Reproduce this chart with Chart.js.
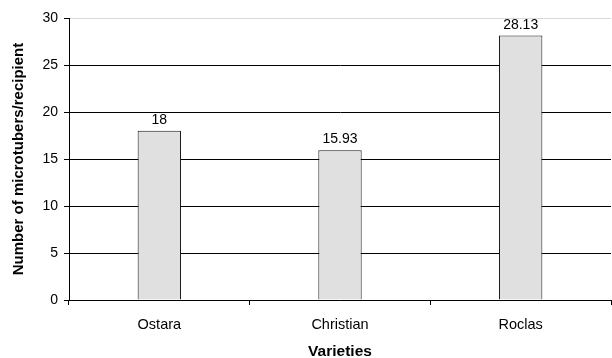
<!DOCTYPE html>
<html>
<head>
<meta charset="utf-8">
<script src="https://cdn.jsdelivr.net/npm/chart.js@4/dist/chart.umd.min.js"></script>
<style>
  html, body { margin: 0; padding: 0; background: #fff; }
  #wrap { width: 612px; height: 358px; position: relative; }
</style>
</head>
<body>
<div id="wrap"><canvas id="c"></canvas></div>
<script>
const categories = ['Ostara', 'Christian', 'Roclas'];
const microtubers = [18, 15.93, 28.13];
const valueLabels = ['18', '15.93', '28.13'];
const yTicks = [0, 5, 10, 15, 20, 25, 30];

const FONT = '"Liberation Sans", Arial, sans-serif';

// Writes each bar's value just above its top edge
const barValueLabels = {
  id: 'barValueLabels',
  afterDatasetsDraw(chart) {
    const ctx = chart.ctx;
    const meta = chart.getDatasetMeta(0);
    ctx.save();
    ctx.font = '14px ' + FONT;
    ctx.fillStyle = '#000';
    ctx.textAlign = 'center';
    ctx.textBaseline = 'alphabetic';
    meta.data.forEach((bar, i) => {
      ctx.fillText(valueLabels[i], bar.x, bar.y - 7);
    });
    ctx.restore();
  }
};

new Chart(document.getElementById('c'), {
  type: 'bar',
  data: {
    labels: categories,
    datasets: [{
      data: microtubers,
      backgroundColor: '#e0e0e0',
      borderColor: '#1a1a1a',
      borderWidth: 1,
      categoryPercentage: 1,
      barPercentage: 0.24
    }]
  },
  options: {
    responsive: true,
    maintainAspectRatio: false,
    animation: false,
    devicePixelRatio: 1,
    layout: { padding: { top: 18, right: 1, left: 0, bottom: 0 } },
    plugins: { legend: { display: false }, tooltip: { enabled: false } },
    scales: {
      x: {
        offset: true,
        grid: {
          offset: true,
          drawOnChartArea: false,
          drawTicks: true,
          tickLength: 5,
          color: '#000'
        },
        border: { color: '#000', width: 1 },
        ticks: { color: '#000', font: { family: FONT, size: 14.5 }, padding: 11 },
        title: {
          display: true,
          text: 'Varieties',
          color: '#000',
          font: { family: FONT, size: 15.5, weight: 'bold' },
          padding: { top: 4, bottom: -3 }
        },
        afterFit(scale) { scale.height = 58; }
      },
      y: {
        min: 0,
        max: 30,
        afterBuildTicks(scale) { scale.ticks = yTicks.map(v => ({ value: v })); },
        grid: {
          color: ctx => (ctx.tick && ctx.tick.value === 30) ? '#d9d9d9' : '#000',
          tickColor: '#000',
          tickLength: 5,
          lineWidth: 1
        },
        border: { color: '#000', width: 1 },
        ticks: { color: '#000', font: { family: FONT, size: 14 }, padding: 6 },
        title: {
          display: true,
          text: 'Number of microtubers/recipient',
          color: '#000',
          font: { family: FONT, size: 15, weight: 'bold' },
          padding: { top: 10, bottom: 0 }
        },
        afterFit(scale) { scale.width = 69; }
      }
    }
  },
  plugins: [barValueLabels]
});
</script>
</body>
</html>
